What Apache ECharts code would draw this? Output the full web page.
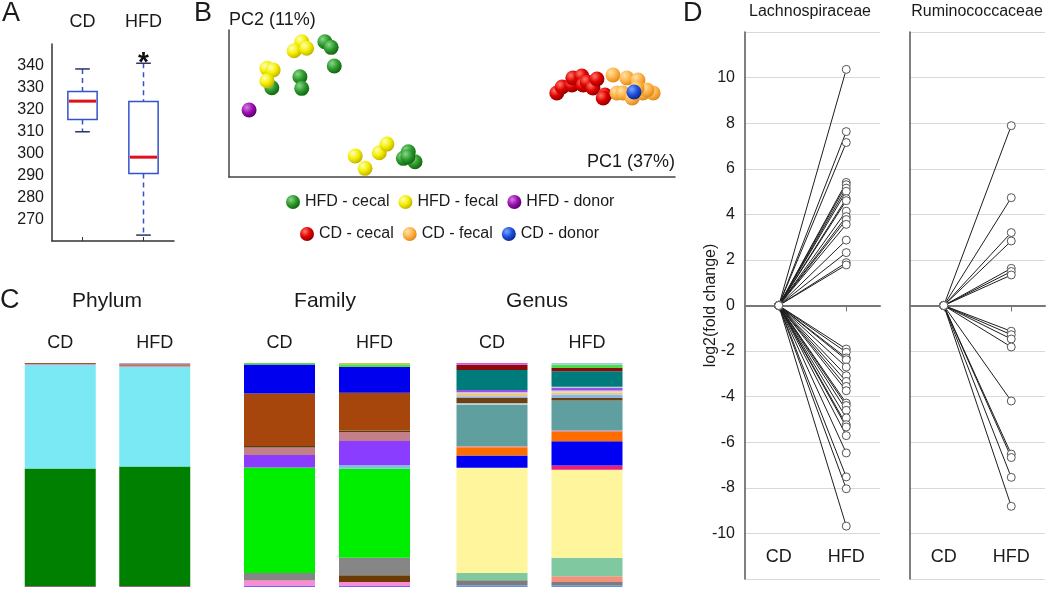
<!DOCTYPE html>
<html><head><meta charset="utf-8">
<script src="https://cdn.jsdelivr.net/npm/echarts@6/dist/echarts.min.js"></script>
<style>html,body{margin:0;padding:0;background:#fff}#c{width:1050px;height:599px}</style>
</head><body><div id="c"></div>
<script>
// ---------- Panel A : box plot ----------
const boxCategories = ['CD', 'HFD'];
const boxLow    = [309.9, 262.7];
const boxQ1     = [315.5, 290.8];
const boxMedian = [323.9, 298.3];
const boxQ3     = [328.3, 323.7];
const boxHigh   = [338.6, 341.2];
const boxSignificance = ['', '*'];

// ---------- Panel B : PCoA scores (PC1, PC2) ----------
const hfdCecal = [[9.6,60.7],[21.5,92.0],[22.9,88.2],[23.6,75.5],[15.9,68.2],[16.3,60.3],[39.1,12.7],[40.2,17.2],[41.7,10.4],[40.1,13.8]];
const hfdFecal = [[8.5,73.9],[9.9,72.8],[8.5,65.5],[16.3,92.0],[14.6,85.9],[17.4,87.6],[28.3,14.3],[30.5,5.9],[33.7,16.5],[35.4,22.4]];
const hfdDonor = [[4.5,45.6]];
const cdCecal  = [[73.5,57.1],[74.7,61.2],[76.9,62.6],[77.1,67.3],[79.1,68.7],[79.4,62.6],[80.3,64.6],[81.6,60.5],[82.5,66.7],[84.3,55.8],[83.9,53.7]];
const cdFecal  = [[86.1,69.4],[89.2,67.3],[91.7,66.0],[87.0,57.1],[88.3,57.1],[90.4,53.7],[92.8,57.1],[95.1,57.1],[93.7,59.2],[91.5,60.5]];
const cdDonor  = [[90.8,57.8]];
const pcaGroups = ['HFD - cecal','HFD - fecal','HFD - donor','CD - cecal','CD - fecal','CD - donor'];

// ---------- Panel C : relative abundance (%), bottom -> top ----------
const compCategories = ['CD', 'HFD'];
const phylumCD  = [0.5, 52.4, 46.2, 0.4, 0.5, 0];
const phylumHFD = [0.5, 53.3, 44.4, 0.6, 0.6, 0.6];
const familyCD  = [0.7, 2.2, 0, 3.3, 47.2, 0, 5.5, 3.4, 0.7, 23.4, 12.9, 0.7, 0];
const familyHFD = [0.7, 1.5, 3.0, 7.9, 39.7, 1.5, 10.9, 4.0, 0.7, 16.8, 11.5, 1.2, 0.6];
const genusCD   = [0.74, 2.23, 0, 3.27, 46.95, 0, 5.50, 3.71, 0.45, 18.57, 0.59, 2.38, 0.74, 1.04, 0.74, 1.04, 0, 8.92, 2.38, 0, 0.74, 0];
const genusHFD  = [0.74, 1.49, 2.53, 8.32, 39.23, 1.93, 10.85, 4.16, 0.59, 13.37, 0, 1.19, 1.49, 0.89, 0.89, 1.19, 0.59, 6.84, 1.49, 1.49, 0, 0.74];

// ---------- Panel D : log2 fold change HFD vs CD ----------
const foldCategories = ['CD', 'HFD'];
const cdBaseline = 0;
const lachnoHFD = [10.36, 7.63, 7.15, 5.40, 5.30, 5.15, 5.01, 4.69, 4.60, 4.14, 3.90, 3.77, 3.56, 2.87, 2.32, 1.88, 1.78,
  -1.91, -2.05, -2.30, -2.38, -2.70, -3.08, -3.33, -3.55, -3.74, -4.28, -4.39, -4.60, -4.93, -5.23, -5.33, -5.71, -6.47, -7.52, -8.04, -9.68];
const rumiHFD = [7.89, 4.73, 3.20, 2.83, 1.63, 1.49, 1.34, -1.13, -1.28, -1.47, -1.82, -4.19, -6.52, -6.67, -7.54, -8.81];

// ---------- styles ----------
const FONT = 'Arial, "Liberation Sans", Helvetica, sans-serif';
const TXT = '#1a1a1a';
const phylumColors = ['#8a6a7a','#008000','#7be9f4','#d89ab8','#a0522d','#b8a8d0'];
const familyColors = ['#7b5cff','#ff8ad0','#6b3a05','#868686','#00ee00','#7cc0dc','#8b3dff','#c48088','#5c3a12','#a6450c','#0000ee','#50e040','#d8c05a'];
const genusColors  = ['#6a90dc','#7c7c7c','#f4917a','#80c9a0','#fff59d','#e8207c','#0000f2','#ff6c00','#e88a90','#5f9fa0','#cfdbe0','#6e4016','#8ab6e2','#ecc878','#dcd4cc','#9650e6','#c4ccd6','#007b7b','#8b0a0a','#44e044','#e050e0','#a8c4e4'];
function ball(a, b, c) {
  return {type:'radial', x:0.35, y:0.32, r:0.7, colorStops:[{offset:0,color:a},{offset:0.55,color:b},{offset:1,color:c}]};
}
const ballColors = [
  ball('#8ad88a','#2e9a2e','#11650f'),
  ball('#ffffb8','#f3ee00','#c2b300'),
  ball('#d77de6','#9a10b0','#5a006c'),
  ball('#ff7a6a','#e00000','#930000'),
  ball('#ffe4aa','#ffb347','#dd8a1e'),
  ball('#7aa6ff','#1f4fe0','#0a2890')
];
const pcaData = [hfdCecal, hfdFecal, hfdDonor, cdCecal, cdFecal, cdDonor];

const chart = echarts.init(document.getElementById('c'), null, {renderer:'canvas'});

const noGridBounds = {containLabel:false, outerBoundsMode:'none'};
const grids = [
  Object.assign({left:52, top:44, width:122, height:197}, noGridBounds),
  Object.assign({left:229, top:30, width:446, height:147}, noGridBounds),
  Object.assign({left:13, top:363, width:189, height:224}, noGridBounds),
  Object.assign({left:232, top:363, width:190, height:224}, noGridBounds),
  Object.assign({left:444.5, top:363, width:190, height:224}, noGridBounds),
  Object.assign({left:745, top:32, width:135, height:547}, noGridBounds),
  Object.assign({left:910, top:32, width:135, height:547}, noGridBounds)
];

function topCatAxis(grid, data, margin) {
  return {type:'category', gridIndex:grid, data:data, position:'top',
    axisLine:{show:false}, axisTick:{show:false}, splitLine:{show:false},
    axisLabel:{margin:margin, fontSize:18, color:TXT, fontFamily:FONT}};
}
function zeroAxis(grid) {
  return {type:'category', gridIndex:grid, data:foldCategories,
    axisLine:{show:true, onZero:true, lineStyle:{color:'#777', width:2}},
    axisTick:{show:true, alignWithLabel:true, length:6, lineStyle:{color:'#777', width:1}},
    axisLabel:{show:false}, splitLine:{show:false}};
}
function bottomLabelAxis(grid) {
  return {type:'category', gridIndex:grid, data:foldCategories, position:'bottom',
    axisLine:{show:false, onZero:false}, axisTick:{show:false}, splitLine:{show:false},
    axisLabel:{inside:true, margin:13, fontSize:18, color:TXT, fontFamily:FONT}};
}

const xAxes = [
  {type:'category', gridIndex:0, data:boxCategories,
    axisLine:{show:true, lineStyle:{color:'#333', width:1.5}},
    axisTick:{show:true, inside:true, length:4, alignWithLabel:true, lineStyle:{color:'#333'}},
    axisLabel:{show:false}, splitLine:{show:false}},
  topCatAxis(0, boxCategories, 13),
  {type:'value', gridIndex:1, min:0, max:100,
    axisLine:{show:true, onZero:false, lineStyle:{color:'#444', width:1.5}},
    axisTick:{show:false}, axisLabel:{show:false}, splitLine:{show:false},
    name:'PC1 (37%)', nameLocation:'end', nameGap:0, nameMoveOverlap:false,
    nameTextStyle:{align:'right', verticalAlign:'bottom', padding:[0,0,6,0], fontSize:18, color:TXT, fontFamily:FONT}},
  topCatAxis(2, compCategories, 11),
  topCatAxis(3, compCategories, 11),
  topCatAxis(4, compCategories, 11),
  zeroAxis(5), bottomLabelAxis(5),
  zeroAxis(6), bottomLabelAxis(6)
];

function compY(grid) {
  return {type:'value', gridIndex:grid, min:0, max:100, show:false};
}
function foldY(grid, withLabels) {
  return {type:'value', gridIndex:grid, min:-12, max:12, interval:2,
    axisLine:{show:true, lineStyle:{color:'#555', width:1.5}},
    axisTick:{show:false},
    splitLine:{show:true, lineStyle:{color:'#d9d9d9', width:1}},
    axisLabel:{show:withLabels, margin:10, fontSize:16, color:TXT, fontFamily:FONT,
      formatter: v => (Math.abs(v) === 12 ? '' : String(v))},
    name: withLabels ? 'log2(fold change)' : '',
    nameLocation:'middle', nameGap:26, nameRotate:90, nameMoveOverlap:false,
    nameTextStyle:{fontSize:16, color:TXT, fontFamily:FONT}};
}
const yAxes = [
  {type:'value', gridIndex:0, min:260, max:350, interval:10,
    axisLine:{show:true, lineStyle:{color:'#333', width:1.5}},
    axisTick:{show:false}, splitLine:{show:false},
    axisLabel:{margin:8, fontSize:16, color:TXT, fontFamily:FONT,
      formatter: v => (v === 260 || v === 350 ? '' : String(v))}},
  {type:'value', gridIndex:1, min:0, max:100,
    axisLine:{show:true, onZero:false, lineStyle:{color:'#444', width:1.5}},
    axisTick:{show:false}, axisLabel:{show:false}, splitLine:{show:false},
    name:'PC2 (11%)', nameLocation:'end', nameGap:1, nameMoveOverlap:false,
    nameTextStyle:{align:'left', fontSize:18, color:TXT, fontFamily:FONT}},
  compY(2), compY(3), compY(4),
  foldY(5, true), foldY(6, false)
];

const series = [];

// Panel A box plot
const BLUE = '#3352cc';
series.push({
  type:'custom', xAxisIndex:0, yAxisIndex:0, silent:true,
  data: boxCategories.map((c, i) => [i, boxLow[i], boxQ1[i], boxMedian[i], boxQ3[i], boxHigh[i]]),
  encode:{x:0, y:[1,2,3,4,5]},
  renderItem: function (params, api) {
    const i = api.value(0);
    const pLow = api.coord([i, api.value(1)]);
    const pQ1 = api.coord([i, api.value(2)]);
    const pMed = api.coord([i, api.value(3)]);
    const pQ3 = api.coord([i, api.value(4)]);
    const pHigh = api.coord([i, api.value(5)]);
    const band = api.size([1, 0])[0];
    const bw = band * 0.48, cw = band * 0.24;
    const cx = pMed[0];
    const dash = {stroke:BLUE, lineWidth:1.5, lineDash:[5,4]};
    const cap = {stroke:'#2a3560', lineWidth:1.5};
    const children = [
      {type:'line', shape:{x1:cx, y1:pHigh[1], x2:cx, y2:pQ3[1]}, style:dash},
      {type:'line', shape:{x1:cx, y1:pQ1[1], x2:cx, y2:pLow[1]}, style:dash},
      {type:'line', shape:{x1:cx-cw/2, y1:pHigh[1], x2:cx+cw/2, y2:pHigh[1]}, style:cap},
      {type:'line', shape:{x1:cx-cw/2, y1:pLow[1], x2:cx+cw/2, y2:pLow[1]}, style:cap},
      {type:'rect', shape:{x:cx-bw/2, y:pQ3[1], width:bw, height:pQ1[1]-pQ3[1]}, style:{fill:'#fff', stroke:BLUE, lineWidth:1.5}},
      {type:'line', shape:{x1:cx-bw/2+1, y1:pMed[1], x2:cx+bw/2-1, y2:pMed[1]}, style:{stroke:'#e0101c', lineWidth:3}}
    ];
    const sig = boxSignificance[params.dataIndex];
    if (sig) {
      children.push({type:'text', style:{text:sig, x:cx, y:pHigh[1], align:'center', verticalAlign:'middle',
        fontSize:28, fontWeight:'bold', fontFamily:FONT, fill:'#111'}});
    }
    return {type:'group', children:children};
  }
});

// Panel B scatter
pcaGroups.forEach((name, k) => {
  series.push({type:'scatter', name:name, xAxisIndex:2, yAxisIndex:1, data:pcaData[k],
    symbol:'circle', symbolSize:15, silent:true, emphasis:{disabled:true},
    itemStyle:{color:ballColors[k], opacity:1}});
});

// Panel C stacked bars
function addStack(cd, hfd, colors, xi, yi, stack) {
  cd.forEach((v, k) => {
    series.push({type:'bar', stack:stack, xAxisIndex:xi, yAxisIndex:yi, barWidth:71,
      data:[cd[k], hfd[k]], silent:true, itemStyle:{color:colors[k]}});
  });
}
addStack(phylumCD, phylumHFD, phylumColors, 3, 2, 'phylum');
addStack(familyCD, familyHFD, familyColors, 4, 3, 'family');
addStack(genusCD, genusHFD, genusColors, 5, 4, 'genus');

// Panel D paired lines
function addFold(values, xi, yi) {
  values.forEach(v => {
    series.push({type:'line', xAxisIndex:xi, yAxisIndex:yi, data:[cdBaseline, v],
      symbol:'circle', symbolSize:8, showSymbol:true, silent:true, z:3,
      lineStyle:{color:'#1e1e1e', width:1},
      itemStyle:{color:'#ffffff', borderColor:'#555', borderWidth:1},
      emphasis:{disabled:true}});
  });
}
addFold(lachnoHFD, 6, 5);
addFold(rumiHFD, 8, 6);

function t(text, left, top, size, align) {
  const o = {text:text, left:left, top:top, padding:0,
    textStyle:{fontSize:size, fontWeight:'normal', color:TXT, fontFamily:FONT}};
  if (align) o.textAlign = align;
  return o;
}

const option = {
  animation:false,
  backgroundColor:'#ffffff',
  textStyle:{fontFamily:FONT},
  title:[
    t('A', 2, 0, 27), t('B', 194, 0, 27), t('C', 0, 287, 27), t('D', 683, 0, 27),
    t('Phylum', 107, 291, 21, 'center'), t('Family', 325, 291, 21, 'center'), t('Genus', 537, 291, 21, 'center'),
    t('Lachnospiraceae', 810, 4, 16, 'center'), t('Ruminococcaceae', 977, 4, 16, 'center')
  ],
  legend:[
    {data:pcaGroups.slice(0,3), left:286, top:194, padding:0, icon:'circle', itemWidth:14, itemHeight:14, itemGap:9,
      selectedMode:false, textStyle:{fontSize:16, color:TXT, fontFamily:FONT}},
    {data:pcaGroups.slice(3), left:300, top:226, padding:0, icon:'circle', itemWidth:14, itemHeight:14, itemGap:9,
      selectedMode:false, textStyle:{fontSize:16, color:TXT, fontFamily:FONT}}
  ],
  grid:grids,
  xAxis:xAxes,
  yAxis:yAxes,
  series:series
};
chart.setOption(option);
</script>
</body></html>
